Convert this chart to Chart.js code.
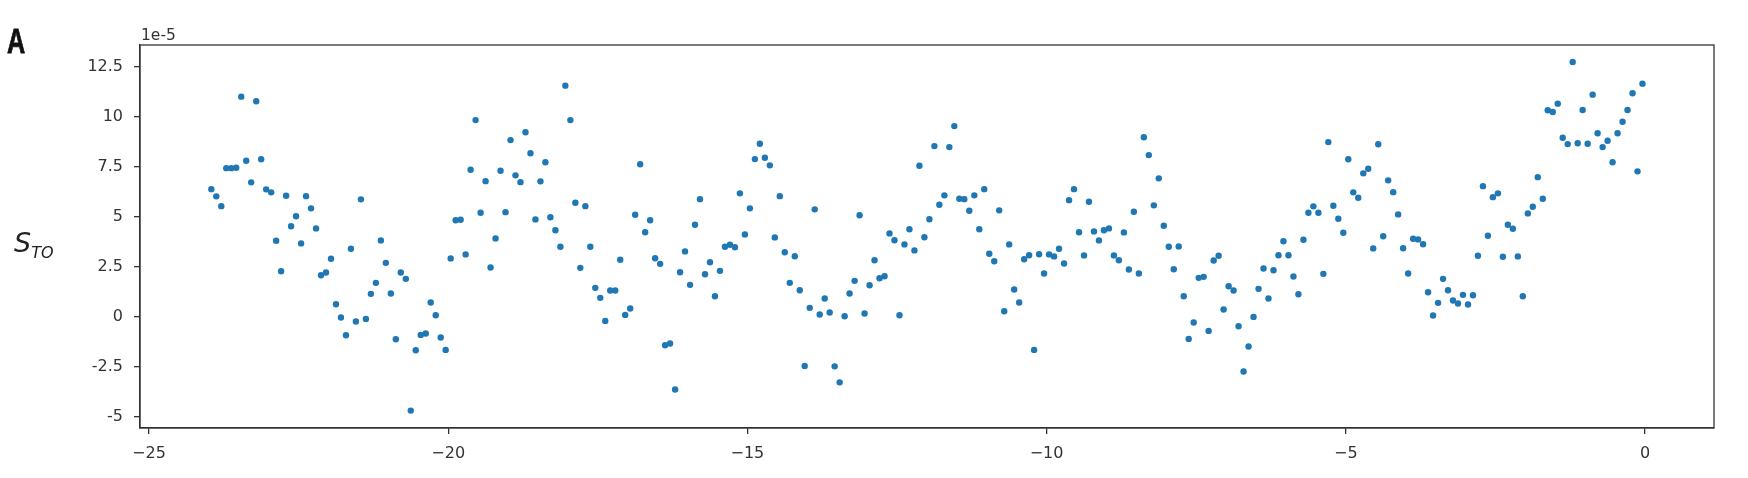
<!DOCTYPE html>
<html>
<head>
<meta charset="utf-8">
<script src="https://cdn.jsdelivr.net/npm/chart.js@4.4.1/dist/chart.umd.min.js"></script>
<style>
  html, body { margin: 0; padding: 0; background: #fff; }
  #wrap { position: relative; width: 1748px; height: 478px; overflow: hidden; }
  #c { position: absolute; left: 0; top: 0; }
  .lbl { position: absolute; white-space: nowrap; color: #222; }
  #panel { left: 7px; top: 21px; font-family: "Liberation Sans", Arial, sans-serif; font-weight: 900; font-size: 35px; color: #111; transform: scaleX(0.72); transform-origin: left top; -webkit-text-stroke: 0.8px #111; }
  #ylab { left: 14px; top: 227px; font-family: "DejaVu Sans", sans-serif; font-size: 27px; font-style: italic; color: #222; }
  #ylab sub { font-size: 16px; vertical-align: -6px; font-style: italic; }
  #offset { left: 141px; top: 26px; font-family: "DejaVu Sans", sans-serif; font-size: 15.5px; color: #333; }
</style>
</head>
<body>
<div id="wrap">
  <canvas id="c" width="1748" height="478"></canvas>
  <div class="lbl" id="panel">A</div>
  <div class="lbl" id="ylab">S<sub>TO</sub></div>
  <div class="lbl" id="offset">1e-5</div>
</div>
<script>
// Time (years, monthly samples)
const timeYears = [
  -23.958, -23.875, -23.792, -23.708, -23.625, -23.542, -23.458, -23.375, -23.292, -23.208, -23.125, -23.042,
  -22.958, -22.875, -22.792, -22.708, -22.625, -22.542, -22.458, -22.375, -22.292, -22.208, -22.125, -22.042,
  -21.958, -21.875, -21.792, -21.708, -21.625, -21.542, -21.458, -21.375, -21.292, -21.208, -21.125, -21.042,
  -20.958, -20.875, -20.792, -20.708, -20.625, -20.542, -20.458, -20.375, -20.292, -20.208, -20.125, -20.042,
  -19.958, -19.875, -19.792, -19.708, -19.625, -19.542, -19.458, -19.375, -19.292, -19.208, -19.125, -19.042,
  -18.958, -18.875, -18.792, -18.708, -18.625, -18.542, -18.458, -18.375, -18.292, -18.208, -18.125, -18.042,
  -17.958, -17.875, -17.792, -17.708, -17.625, -17.542, -17.458, -17.375, -17.292, -17.208, -17.125, -17.042,
  -16.958, -16.875, -16.792, -16.708, -16.625, -16.542, -16.458, -16.375, -16.292, -16.208, -16.125, -16.042,
  -15.958, -15.875, -15.792, -15.708, -15.625, -15.542, -15.458, -15.375, -15.292, -15.208, -15.125, -15.042,
  -14.958, -14.875, -14.792, -14.708, -14.625, -14.542, -14.458, -14.375, -14.292, -14.208, -14.125, -14.042,
  -13.958, -13.875, -13.792, -13.708, -13.625, -13.542, -13.458, -13.375, -13.292, -13.208, -13.125, -13.042,
  -12.958, -12.875, -12.792, -12.708, -12.625, -12.542, -12.458, -12.375, -12.292, -12.208, -12.125, -12.042,
  -11.958, -11.875, -11.792, -11.708, -11.625, -11.542, -11.458, -11.375, -11.292, -11.208, -11.125, -11.042,
  -10.958, -10.875, -10.792, -10.708, -10.625, -10.542, -10.458, -10.375, -10.292, -10.208, -10.125, -10.042,
  -9.958, -9.875, -9.792, -9.708, -9.625, -9.542, -9.458, -9.375, -9.292, -9.208, -9.125, -9.042,
  -8.958, -8.875, -8.792, -8.708, -8.625, -8.542, -8.458, -8.375, -8.292, -8.208, -8.125, -8.042,
  -7.958, -7.875, -7.792, -7.708, -7.625, -7.542, -7.458, -7.375, -7.292, -7.208, -7.125, -7.042,
  -6.958, -6.875, -6.792, -6.708, -6.625, -6.542, -6.458, -6.375, -6.292, -6.208, -6.125, -6.042,
  -5.958, -5.875, -5.792, -5.708, -5.625, -5.542, -5.458, -5.375, -5.292, -5.208, -5.125, -5.042,
  -4.958, -4.875, -4.792, -4.708, -4.625, -4.542, -4.458, -4.375, -4.292, -4.208, -4.125, -4.042,
  -3.958, -3.875, -3.792, -3.708, -3.625, -3.542, -3.458, -3.375, -3.292, -3.208, -3.125, -3.042,
  -2.958, -2.875, -2.792, -2.708, -2.625, -2.542, -2.458, -2.375, -2.292, -2.208, -2.125, -2.042,
  -1.958, -1.875, -1.792, -1.708, -1.625, -1.542, -1.458, -1.375, -1.292, -1.208, -1.125, -1.042,
  -0.958, -0.875, -0.792, -0.708, -0.625, -0.542, -0.458, -0.375, -0.292, -0.208, -0.125, -0.042
];

// S_TO values (units of 1e-5)
const sTO = [
  6.38, 6.02, 5.53, 7.43, 7.43, 7.45, 11.0, 7.8, 6.72, 10.77, 7.87, 6.37,
  6.22, 3.8, 2.28, 6.05, 4.53, 5.03, 3.67, 6.03, 5.42, 4.42, 2.08, 2.22,
  2.9, 0.63, -0.03, -0.92, 3.4, -0.23, 5.87, -0.1, 1.15, 1.7, 3.82, 2.7,
  1.17, -1.12, 2.22, 1.9, -4.68, -1.67, -0.9, -0.83, 0.72, 0.08, -1.03, -1.65,
  2.92, 4.83, 4.85, 3.12, 7.35, 9.83, 5.2, 6.78, 2.47, 3.92, 7.3, 5.23,
  8.83, 7.07, 6.73, 9.22, 8.17, 4.87, 6.77, 7.72, 4.98, 4.33, 3.5, 11.55,
  9.83, 5.7, 2.45, 5.53, 3.5, 1.45, 0.95, -0.2, 1.32, 1.32, 2.85, 0.1,
  0.42, 5.1, 7.62, 4.23, 4.83, 2.93, 2.65, -1.42, -1.33, -3.63, 2.23, 3.27,
  1.6, 4.6, 5.88, 2.13, 2.73, 1.03, 2.3, 3.5, 3.6, 3.48, 6.17, 4.12,
  5.42, 7.88, 8.65, 7.95, 7.57, 3.97, 6.03, 3.23, 1.7, 3.03, 1.33, -2.45,
  0.45, 5.37, 0.12, 0.92, 0.22, -2.47, -3.27, 0.03, 1.17, 1.8, 5.08, 0.17,
  1.58, 2.83, 1.93, 2.03, 4.17, 3.83, 0.08, 3.62, 4.38, 3.32, 7.55, 3.98,
  4.88, 8.53, 5.6, 6.07, 8.48, 9.53, 5.9, 5.88, 5.3, 6.07, 4.38, 6.38,
  3.15, 2.78, 5.32, 0.28, 3.62, 1.37, 0.72, 2.88, 3.08, -1.65, 3.13, 2.17,
  3.12, 3.02, 3.4, 2.67, 5.83, 6.38, 4.23, 3.07, 5.75, 4.27, 3.82, 4.33,
  4.42, 3.07, 2.83, 4.22, 2.37, 5.25, 2.17, 8.97, 8.08, 5.57, 6.92, 4.55,
  3.5, 2.38, 3.52, 1.03, -1.1, -0.28, 1.95, 2.0, -0.7, 2.82, 3.05, 0.37,
  1.53, 1.32, -0.47, -2.73, -1.48, 0.0, 1.4, 2.42, 0.92, 2.33, 3.08, 3.78,
  3.08, 2.02, 1.13, 3.85, 5.2, 5.52, 5.2, 2.15, 8.73, 5.55, 4.9, 4.2,
  7.87, 6.22, 5.95, 7.17, 7.4, 3.42, 8.62, 4.03, 6.82, 6.23, 5.12, 3.43,
  2.17, 3.9, 3.87, 3.63, 1.23, 0.07, 0.7, 1.9, 1.33, 0.82, 0.67, 1.1,
  0.62, 1.08, 3.05, 6.53, 4.05, 5.98, 6.17, 3.0, 4.6, 4.4, 3.02, 1.03,
  5.17, 5.5, 6.98, 5.9, 10.32, 10.23, 10.65, 8.95, 8.63, 12.73, 8.67, 10.33,
  8.65, 11.1, 9.17, 8.48, 8.8, 7.72, 9.17, 9.75, 10.33, 11.17, 7.27, 11.65
];

// Tick values and labels
const xTickValues = [-25, -20, -15, -10, -5, 0];
const xTickLabels = ["\u221225", "\u221220", "\u221215", "\u221210", "\u22125", "0"];
const yTickValues = [-5, -2.5, 0, 2.5, 5, 7.5, 10, 12.5];
const yTickLabels = ["-5", "-2.5", "0", "2.5", "5", "7.5", "10", "12.5"];

const points = timeYears.map((t, i) => ({ x: t, y: sTO[i] }));

const AXIS_COLOR = '#333333';
const AXIS_W = 1.3;

const framePlugin = {
  id: 'frame',
  afterDatasetsDraw(chart) {
    const { ctx, chartArea: a } = chart;
    ctx.save();
    ctx.strokeStyle = AXIS_COLOR;
    ctx.lineWidth = AXIS_W;
    ctx.strokeRect(a.left, a.top, a.right - a.left, a.bottom - a.top);
    ctx.restore();
  }
};

const tickFont = { family: '"DejaVu Sans", Verdana, sans-serif', size: 16 };

new Chart(document.getElementById('c'), {
  type: 'scatter',
  data: {
    datasets: [{
      data: points,
      backgroundColor: '#1f77b4',
      borderColor: '#1f77b4',
      borderWidth: 0,
      pointRadius: 3.2,
      pointHoverRadius: 3.2
    }]
  },
  options: {
    responsive: false,
    devicePixelRatio: 1,
    animation: false,
    events: [],
    layout: { padding: { left: 0, right: 34, top: 45, bottom: 0 } },
    plugins: { legend: { display: false }, tooltip: { enabled: false } },
    scales: {
      x: {
        type: 'linear',
        position: 'bottom',
        min: -25.15,
        max: 1.153,
        afterBuildTicks: (s) => { s.ticks = xTickValues.map(v => ({ value: v })); },
        afterFit: (s) => { s.height = 50; },
        ticks: {
          color: '#333',
          font: tickFont,
          padding: 10,
          maxRotation: 0,
          autoSkip: false,
          callback: (v) => { const k = xTickValues.indexOf(v); return k >= 0 ? xTickLabels[k] : ''; }
        },
        grid: { display: true, drawOnChartArea: false, drawTicks: true, tickLength: 6, color: AXIS_COLOR, lineWidth: AXIS_W },
        border: { display: true, color: AXIS_COLOR, width: AXIS_W }
      },
      y: {
        type: 'linear',
        position: 'left',
        min: -5.55,
        max: 13.58,
        afterBuildTicks: (s) => { s.ticks = yTickValues.map(v => ({ value: v })); },
        afterFit: (s) => { s.width = 140; },
        ticks: {
          color: '#333',
          font: tickFont,
          padding: 11,
          autoSkip: false,
          callback: (v) => { const k = yTickValues.indexOf(v); return k >= 0 ? yTickLabels[k] : ''; }
        },
        grid: { display: true, drawOnChartArea: false, drawTicks: true, tickLength: 6, color: AXIS_COLOR, lineWidth: AXIS_W },
        border: { display: true, color: AXIS_COLOR, width: AXIS_W }
      }
    }
  },
  plugins: [framePlugin]
});
</script>
</body>
</html>
